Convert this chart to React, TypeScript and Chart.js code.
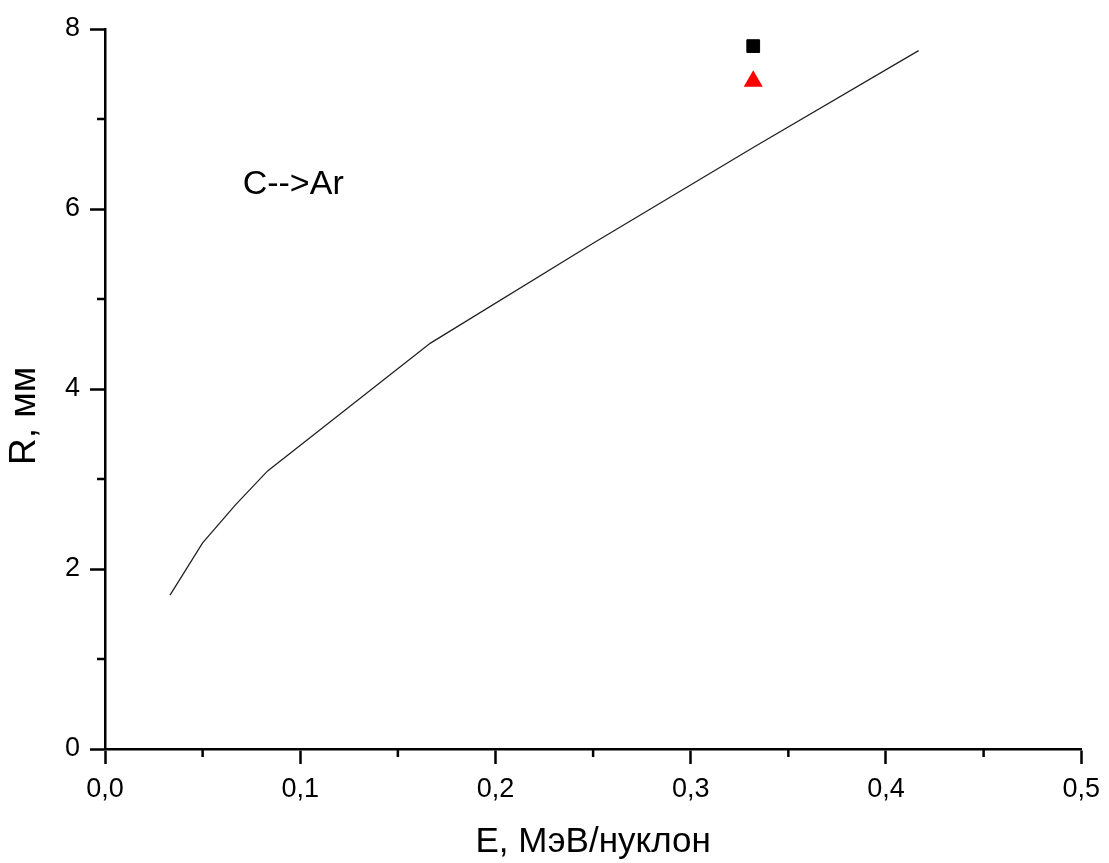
import React, { useEffect, useRef } from "react";
import { Chart, registerables } from "chart.js";

Chart.register(...registerables);

// Curve: range R (mm) vs energy E (MeV/nucleon), C --> Ar
const curveE = [0.0333, 0.05, 0.0667, 0.0833, 0.1667, 0.25, 0.3333, 0.4167];
const curveR = [1.71, 2.29, 2.71, 3.09, 4.51, 5.62, 6.7, 7.76];

// Experimental points
const squareE = [0.332];
const squareR = [7.81];
const triangleE = [0.332];
const triangleR = [7.42];

const xTicks = [0, 0.1, 0.2, 0.3, 0.4, 0.5];
const yTicks = [0, 2, 4, 6, 8];
const xMinor = [0.05, 0.15, 0.25, 0.35, 0.45];
const yMinor = [1, 3, 5, 7];

const xTitle = "E, МэВ/нуклон";
const yTitle = "R, мм";
const annotationText = "C-->Ar";
const annotationE = 0.0705;
const annotationR = 6.27;

const FONT = "'Liberation Sans', Arial, sans-serif";

export default function App() {
  const ref = useRef<HTMLCanvasElement | null>(null);

  useEffect(() => {
    if (!ref.current) return;

    const extras = {
      id: "extras",
      afterDraw(chart: any) {
        const ctx = chart.ctx;
        const xs = chart.scales.x;
        const ys = chart.scales.y;
        ctx.save();
        ctx.strokeStyle = "#000";
        ctx.lineWidth = 2.5;
        ctx.beginPath();
        for (const v of xMinor) {
          const px = xs.getPixelForValue(v);
          ctx.moveTo(px, ys.bottom);
          ctx.lineTo(px, ys.bottom + 8);
        }
        for (const v of yMinor) {
          const py = ys.getPixelForValue(v);
          ctx.moveTo(xs.left, py);
          ctx.lineTo(xs.left - 8, py);
        }
        ctx.stroke();

        ctx.fillStyle = "#000";
        ctx.font = `34px ${FONT}`;
        ctx.textAlign = "left";
        ctx.textBaseline = "middle";
        ctx.fillText(
          annotationText,
          xs.getPixelForValue(annotationE),
          ys.getPixelForValue(annotationR)
        );

        ctx.font = `37px ${FONT}`;
        ctx.translate(25, 416);
        ctx.rotate(-Math.PI / 2);
        ctx.textAlign = "center";
        ctx.textBaseline = "middle";
        ctx.fillText(yTitle, 0, 0);
        ctx.restore();
      },
    };

    const chart = new Chart(ref.current, {
      type: "scatter",
      data: {
        datasets: [
          {
            type: "line",
            data: curveE.map((e, i) => ({ x: e, y: curveR[i] })),
            borderColor: "#222",
            borderWidth: 1.3,
            pointRadius: 0,
            fill: false,
            tension: 0,
          },
          {
            data: squareE.map((e, i) => ({ x: e, y: squareR[i] })),
            pointStyle: "rect",
            pointRadius: 9,
            backgroundColor: "#000",
            borderColor: "#000",
            borderWidth: 1,
          },
          {
            data: triangleE.map((e, i) => ({ x: e, y: triangleR[i] })),
            pointStyle: "triangle",
            pointRadius: 11,
            backgroundColor: "#ff0000",
            borderColor: "#ff0000",
            borderWidth: 0,
          },
        ],
      } as any,
      options: {
        animation: false,
        responsive: false,
        maintainAspectRatio: false,
        layout: { padding: { top: 29, right: 24, left: 0, bottom: 0 } },
        plugins: {
          legend: { display: false },
          tooltip: { enabled: false },
        },
        scales: {
          x: {
            type: "linear",
            min: 0,
            max: 0.5,
            afterFit(scale: any) {
              scale.height = 114;
            },
            afterBuildTicks(scale: any) {
              scale.ticks = xTicks.map((v) => ({ value: v }));
            },
            ticks: {
              color: "#000",
              font: { family: FONT, size: 27 },
              padding: 9,
              maxRotation: 0,
              callback: (v: any) => Number(v).toFixed(1).replace(".", ","),
            },
            grid: {
              display: true,
              drawOnChartArea: false,
              drawTicks: true,
              tickLength: 15,
              tickWidth: 2.5,
              tickColor: "#000",
            },
            border: { display: true, color: "#000", width: 2.5 },
            title: {
              display: true,
              text: xTitle,
              color: "#000",
              font: { family: FONT, size: 35 },
              padding: { top: 0, bottom: 0 },
            },
          },
          y: {
            type: "linear",
            min: 0,
            max: 8,
            afterFit(scale: any) {
              scale.width = 105;
            },
            afterBuildTicks(scale: any) {
              scale.ticks = yTicks.map((v) => ({ value: v }));
            },
            ticks: {
              color: "#000",
              font: { family: FONT, size: 27 },
              padding: 10,
              callback: (v: any) => String(v),
            },
            grid: {
              display: true,
              drawOnChartArea: false,
              drawTicks: true,
              tickLength: 15,
              tickWidth: 2.5,
              tickColor: "#000",
            },
            border: { display: true, color: "#000", width: 2.5 },
          },
        },
      } as any,
      plugins: [extras],
    });

    return () => chart.destroy();
  }, []);

  return (
    <div
      style={{
        position: "fixed",
        left: 0,
        top: 0,
        width: 1109,
        height: 863,
        background: "#fff",
      }}
    >
      <canvas ref={ref} width={1109} height={863} />
    </div>
  );
}
